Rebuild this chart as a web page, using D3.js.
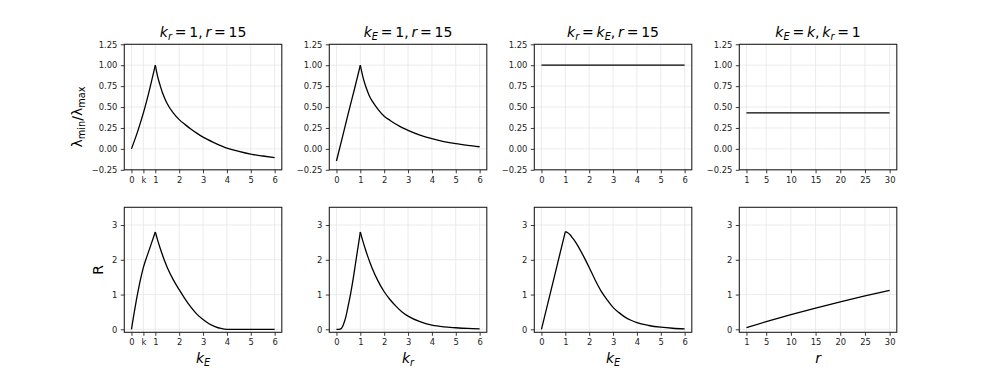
<!DOCTYPE html>
<html><head><meta charset="utf-8">
<script src="https://cdn.jsdelivr.net/npm/d3@7"></script>
<style>body{margin:0;background:#fff} svg{display:block}</style>
</head><body>
<svg id="chart" width="997" height="374"></svg>
<script>
// ---------------- data ----------------
const xTicks06 = [0, 1, 2, 3, 4, 5, 6];
const xTicksK = [0, 0.5, 1, 2, 3, 4, 5, 6];
const xTickLabelsK = ["0", "k", "1", "2", "3", "4", "5", "6"];
const xTicksR = [1, 5, 10, 15, 20, 25, 30];
const yTicksTop = [-0.25, 0, 0.25, 0.5, 0.75, 1.0, 1.25];
const yTicksBottom = [0, 1, 2, 3];

// top row: lambda_min / lambda_max
const top1X = [0, 0.25, 0.5, 0.75, 1, 1.1, 1.2, 1.3, 1.4, 1.5, 1.75, 2, 2.25, 2.5, 2.75, 3, 3.5, 4, 4.5, 5, 5.5, 6];
const top1Y = [0, 0.2, 0.43, 0.7, 1.0, 0.86, 0.76, 0.67, 0.6, 0.54, 0.43, 0.35, 0.29, 0.235, 0.185, 0.14, 0.07, 0.01, -0.03, -0.063, -0.085, -0.105];
const top2X = [0, 0.25, 0.5, 0.75, 1, 1.1, 1.2, 1.3, 1.4, 1.5, 1.75, 2, 2.25, 2.5, 2.75, 3, 3.5, 4, 4.5, 5, 5.5, 6];
const top2Y = [-0.145, 0.14, 0.43, 0.71, 1.0, 0.87, 0.77, 0.69, 0.62, 0.57, 0.47, 0.39, 0.34, 0.295, 0.255, 0.222, 0.165, 0.122, 0.088, 0.062, 0.042, 0.025];
const top3X = [0, 1, 2, 3, 4, 5, 6];
const top3Y = [1, 1, 1, 1, 1, 1, 1];
const top4X = [1, 5, 10, 15, 20, 25, 30];
const top4Y = [0.43, 0.43, 0.43, 0.43, 0.43, 0.43, 0.43];

// bottom row: R
const bot1X = [0, 0.1, 0.2, 0.3, 0.4, 0.5, 0.6, 0.7, 0.8, 0.9, 1.0, 1.1, 1.2, 1.3, 1.4, 1.5, 1.75, 2, 2.25, 2.5, 2.75, 3, 3.25, 3.5, 3.75, 4, 4.5, 5, 5.5, 6];
const bot1Y = [0, 0.42, 0.82, 1.18, 1.5, 1.78, 2.0, 2.2, 2.4, 2.6, 2.8, 2.56, 2.34, 2.14, 1.95, 1.78, 1.43, 1.14, 0.87, 0.63, 0.43, 0.28, 0.16, 0.08, 0.025, 0, 0, 0, 0, 0];
const bot2X = [0, 0.1, 0.2, 0.3, 0.4, 0.5, 0.6, 0.7, 0.8, 0.9, 1.0, 1.1, 1.2, 1.3, 1.4, 1.5, 1.75, 2, 2.25, 2.5, 2.75, 3, 3.5, 4, 4.5, 5, 5.5, 6];
const bot2Y = [0, 0, 0.02, 0.15, 0.38, 0.7, 1.05, 1.45, 1.9, 2.35, 2.8, 2.55, 2.33, 2.12, 1.93, 1.75, 1.38, 1.08, 0.85, 0.66, 0.5, 0.38, 0.22, 0.12, 0.07, 0.045, 0.025, 0.012];
const bot3X = [0, 0.5, 1, 1.1, 1.2, 1.3, 1.4, 1.5, 1.75, 2, 2.25, 2.5, 2.75, 3, 3.25, 3.5, 3.75, 4, 4.5, 5, 5.5, 6];
const bot3Y = [0, 1.4, 2.81, 2.78, 2.72, 2.63, 2.54, 2.43, 2.12, 1.78, 1.42, 1.1, 0.85, 0.63, 0.48, 0.35, 0.26, 0.19, 0.11, 0.06, 0.03, 0.015];
const bot4X = [1, 5, 10, 15, 20, 25, 30];
const bot4Y = [0.05, 0.22, 0.42, 0.61, 0.79, 0.96, 1.12];

// math-text label parts: [text, style]  i=italic, r=roman, si=sub italic, sr=sub roman
const S = "\u2009";
const titles = [
  [["k","i"],["r","si"],[S+"="+S+"1,"+S,"r"],["r","i"],[S+"="+S+"15","r"]],
  [["k","i"],["E","si"],[S+"="+S+"1,"+S,"r"],["r","i"],[S+"="+S+"15","r"]],
  [["k","i"],["r","si"],[S+"="+S,"r"],["k","i"],["E","si"],[","+S,"r"],["r","i"],[S+"="+S+"15","r"]],
  [["k","i"],["E","si"],[S+"="+S,"r"],["k","i"],[","+S,"r"],["k","i"],["r","si"],[S+"="+S+"1","r"]]
];
const xLabels = [
  [["k","i"],["E","si"]],
  [["k","i"],["r","si"]],
  [["k","i"],["E","si"]],
  [["r","i"]]
];
const yLabelTop = [["λ","r"],["min","sr"],["/λ","r"],["max","sr"]];
const yLabelBottom = [["R","r"]];

// -------------- layout --------------
const FONT = "DejaVu Sans, Liberation Sans, sans-serif";
const colLeft = [124.3, 329.3, 534.3, 739.3];
const colW = 157.5;
const rows = [{y0: 44.3, y1: 169.8}, {y0: 207.3, y1: 332.3}];
const svg = d3.select("#chart");

function mathText(sel, parts, size) {
  let cur = 0;
  parts.forEach(([t, st]) => {
    const sub = st.startsWith("s");
    const target = sub ? size * 0.22 : 0;
    sel.append("tspan")
      .attr("dy", (target - cur).toFixed(2))
      .attr("font-size", sub ? size * 0.7 : size)
      .attr("font-style", st.endsWith("i") ? "italic" : "normal")
      .text(t);
    cur = target;
  });
}

const panels = [
  {row:0, col:0, xd:[-0.3,6.3], xt:xTicksK, xl:xTickLabelsK, yd:[-0.25,1.25], yt:yTicksTop, X:top1X, Y:top1Y, br:[1]},
  {row:0, col:1, xd:[-0.3,6.3], xt:xTicks06, xl:null, yd:[-0.25,1.25], yt:yTicksTop, X:top2X, Y:top2Y, br:[1]},
  {row:0, col:2, xd:[-0.3,6.3], xt:xTicks06, xl:null, yd:[-0.25,1.25], yt:yTicksTop, X:top3X, Y:top3Y, br:[]},
  {row:0, col:3, xd:[-0.45,31.45], xt:xTicksR, xl:null, yd:[-0.25,1.25], yt:yTicksTop, X:top4X, Y:top4Y, br:[]},
  {row:1, col:0, xd:[-0.3,6.3], xt:xTicksK, xl:xTickLabelsK, yd:[-0.086,3.51], yt:yTicksBottom, X:bot1X, Y:bot1Y, br:[1]},
  {row:1, col:1, xd:[-0.3,6.3], xt:xTicks06, xl:null, yd:[-0.086,3.51], yt:yTicksBottom, X:bot2X, Y:bot2Y, br:[1]},
  {row:1, col:2, xd:[-0.3,6.3], xt:xTicks06, xl:null, yd:[-0.086,3.51], yt:yTicksBottom, X:bot3X, Y:bot3Y, br:[1]},
  {row:1, col:3, xd:[-0.45,31.45], xt:xTicksR, xl:null, yd:[-0.086,3.51], yt:yTicksBottom, X:bot4X, Y:bot4Y, br:[]}
];

const yFmtTop = d => (d < 0 ? "\u2212" : "") + Math.abs(d).toFixed(2);

panels.forEach((p, i) => {
  const x0 = colLeft[p.col], x1 = x0 + colW;
  const {y0, y1} = rows[p.row];
  const x = d3.scaleLinear().domain(p.xd).range([x0, x1]);
  const y = d3.scaleLinear().domain(p.yd).range([y1, y0]);
  const g = svg.append("g");

  // grid
  g.append("g").selectAll("line").data(p.xt).join("line")
    .attr("x1", d => x(d)).attr("x2", d => x(d)).attr("y1", y0).attr("y2", y1)
    .attr("stroke", "#e6e6e6").attr("stroke-width", 0.8);
  g.append("g").selectAll("line").data(p.yt).join("line")
    .attr("y1", d => y(d)).attr("y2", d => y(d)).attr("x1", x0).attr("x2", x1)
    .attr("stroke", "#e6e6e6").attr("stroke-width", 0.8);

  // curve, split at corner points
  const pts = p.X.map((v, k) => [v, p.Y[k]]);
  const cuts = [p.X[0], ...p.br, p.X[p.X.length - 1]];
  const line = d3.line().x(d => x(d[0])).y(d => y(d[1])).curve(d3.curveMonotoneX);
  for (let s = 0; s < cuts.length - 1; s++) {
    const seg = pts.filter(d => d[0] >= cuts[s] - 1e-9 && d[0] <= cuts[s + 1] + 1e-9);
    g.append("path").attr("d", line(seg)).attr("fill", "none")
      .attr("stroke", "#000").attr("stroke-width", 1.3).attr("stroke-linejoin", "round");
  }

  // axes
  const xAxis = d3.axisBottom(x).tickValues(p.xt).tickSizeInner(3.5).tickSizeOuter(0).tickPadding(3.5)
    .tickFormat((d, k) => p.xl ? p.xl[k] : String(d));
  const yAxis = d3.axisLeft(y).tickValues(p.yt).tickSizeInner(3.5).tickSizeOuter(0).tickPadding(3.5)
    .tickFormat(p.row === 0 ? yFmtTop : d => String(d));
  const gx = g.append("g").attr("transform", `translate(0,${y1})`).call(xAxis);
  const gy = g.append("g").attr("transform", `translate(${x0},0)`).call(yAxis);
  [gx, gy].forEach(a => {
    a.select(".domain").remove();
    a.selectAll(".tick line").attr("stroke", "#222").attr("stroke-width", 0.9);
    a.selectAll(".tick text").attr("fill", "#222").attr("font-family", FONT).attr("font-size", 8.4);
  });

  // spines
  g.append("rect").attr("x", x0).attr("y", y0).attr("width", colW).attr("height", y1 - y0)
    .attr("fill", "none").attr("stroke", "#222").attr("stroke-width", 1.1);

  // titles / x labels
  if (p.row === 0) {
    const t = svg.append("text").attr("x", (x0 + x1) / 2).attr("y", 37)
      .attr("text-anchor", "middle").attr("font-family", FONT).attr("fill", "#000");
    mathText(t, titles[p.col], 14);
  } else {
    const t = svg.append("text").attr("x", (x0 + x1) / 2).attr("y", 363)
      .attr("text-anchor", "middle").attr("font-family", FONT).attr("fill", "#000");
    mathText(t, xLabels[p.col], 14);
  }
  if (p.col === 0) {
    const cy = p.row === 0 ? 117 : (y0 + y1) / 2;
    const cx = p.row === 0 ? 82 : 103;
    const t = svg.append("text").attr("transform", `translate(${cx},${cy}) rotate(-90)`)
      .attr("text-anchor", "middle").attr("font-family", FONT).attr("fill", "#000");
    mathText(t, p.row === 0 ? yLabelTop : yLabelBottom, 14);
  }
});
</script>
</body></html>
